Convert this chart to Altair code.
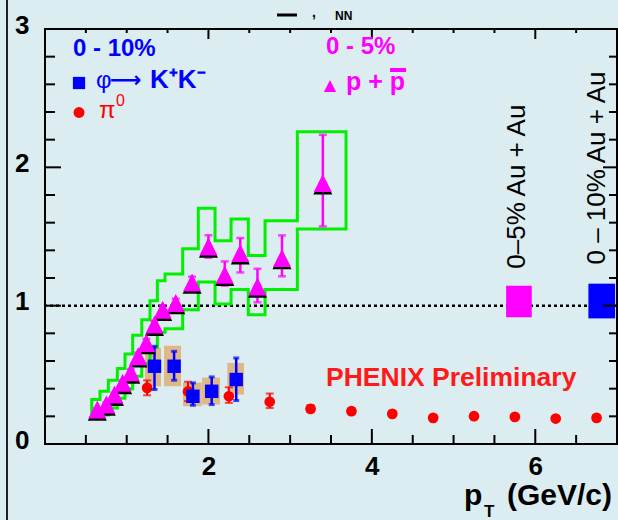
import altair as alt
import pandas as pd

FONT = "Liberation Sans"
W, H = 572, 415

# ---------------- data ----------------
# p + pbar, 0-5% central (R_CP)
P_PT = [0.64, 0.75, 0.85, 0.95, 1.05, 1.14, 1.24, 1.34, 1.44, 1.60, 1.80, 2.00, 2.20, 2.39, 2.60, 2.90, 3.40]
P_R = [0.249, 0.285, 0.357, 0.442, 0.518, 0.634, 0.731, 0.863, 0.971, 1.019, 1.168, 1.428, 1.224, 1.380, 1.139, 1.344, 1.886]
P_HI = [0.26, 0.30, 0.37, 0.46, 0.54, 0.66, 0.76, 0.89, 1.00, 1.05, 1.21, 1.509, 1.320, 1.489, 1.267, 1.508, 2.235]
P_LO = [0.24, 0.27, 0.34, 0.43, 0.50, 0.61, 0.70, 0.84, 0.94, 0.99, 1.13, 1.347, 1.144, 1.240, 1.024, 1.212, 1.573]
# systematic band (bin edges, upper, lower)
P_SYS_EDGES = [0.572, 0.673, 0.775, 0.885, 0.979, 1.073, 1.184, 1.285, 1.375, 1.469,
               1.685, 1.876, 2.081, 2.277, 2.488, 2.693, 3.088, 3.684]
P_SYS_HI = [0.321, 0.381, 0.461, 0.545, 0.651, 0.786, 0.899, 1.036, 1.181, 1.229,
            1.412, 1.705, 1.469, 1.626, 1.363, 1.614, 2.258]
P_SYS_LO = [0.193, 0.21, 0.26, 0.33, 0.40, 0.49, 0.58, 0.70, 0.807, 0.834,
            0.971, 1.171, 1.012, 1.116, 0.935, 1.116, 1.554]

# phi -> K+K-, 0-10%
PHI_PT = [1.34, 1.58, 1.81, 2.04, 2.34]
PHI_R = [0.562, 0.562, 0.345, 0.381, 0.466]
PHI_HI = [0.706, 0.670, 0.442, 0.485, 0.622]
PHI_LO = [0.394, 0.461, 0.280, 0.285, 0.314]
PHI_SYS_X1 = [1.224, 1.457, 1.689, 1.922, 2.231]
PHI_SYS_X2 = [1.420, 1.665, 1.918, 2.142, 2.436]
PHI_SYS_HI = [0.695, 0.711, 0.444, 0.480, 0.586]
PHI_SYS_LO = [0.417, 0.417, 0.273, 0.285, 0.357]

# pi0, 0-10%
PI_PT = [1.25, 1.75, 2.25, 2.75, 3.25, 3.75, 4.25, 4.75, 5.25, 5.75, 6.25, 6.75]
PI_R = [0.406, 0.38, 0.345, 0.305, 0.254, 0.237, 0.218, 0.189, 0.201, 0.196, 0.184, 0.189]
PI_HI = [0.46, 0.45, 0.41, 0.365, 0.28, 0.26, 0.24, 0.21, 0.22, 0.215, 0.20, 0.21]
PI_LO = [0.352, 0.31, 0.297, 0.26, 0.23, 0.215, 0.20, 0.17, 0.18, 0.18, 0.17, 0.17]

# normalization uncertainty boxes
NORM_X1 = [5.643, 6.650]
NORM_X2 = [5.957, 6.977]
NORM_LO = [0.916, 0.908]
NORM_HI = [1.144, 1.159]
NORM_COLOR = ["#ff00ff", "#0000ff"]

REF_LINE = [1.0]
X_DOMAIN = [0, 7]
Y_DOMAIN = [0, 3]
X_LABELS = [2, 4, 6]
Y_LABELS = [0, 1, 2, 3]
X_MINOR = [0.5, 1, 1.5, 2.5, 3, 3.5, 4.5, 5, 5.5, 6.5]
X_MAJOR = [2, 4, 6]
Y_MINOR = [0.2, 0.4, 0.6, 0.8, 1.2, 1.4, 1.6, 1.8, 2.2, 2.4, 2.6, 2.8]
Y_MAJOR = [1, 2]

# ---------------- colours ----------------
MAGENTA = "#ff00ff"
BLUE = "#0000ff"
RED = "#ff0000"
GREEN = "#00f000"
TAN = "#deb887"
BG = "#dcedf1"

xs = alt.Scale(domain=X_DOMAIN, nice=False, zero=False)
ys = alt.Scale(domain=Y_DOMAIN, nice=False, zero=False)
x_axis = alt.Axis(values=X_LABELS, title=None, ticks=False, tickSize=0, domain=False, grid=False,
                  labelFontSize=26, labelFontWeight="bold", labelFont=FONT, labelColor="black",
                  labelPadding=9, labelFlush=False)
y_axis = alt.Axis(values=Y_LABELS, title=None, ticks=False, tickSize=0, domain=False, grid=False,
                  labelFontSize=26, labelFontWeight="bold", labelFont=FONT, labelColor="black",
                  labelPadding=16, labelOffset=-4, labelFlush=False)


def X(f="x"):
    return alt.X(f, type="quantitative", scale=xs, axis=x_axis)


def Y(f="y"):
    return alt.Y(f, type="quantitative", scale=ys, axis=y_axis)


# ---------------- frames ----------------
p_df = pd.DataFrame({"x": P_PT, "y": P_R, "lo": P_LO, "hi": P_HI})
phi_df = pd.DataFrame({"x": PHI_PT, "y": PHI_R, "lo": PHI_LO, "hi": PHI_HI,
                       "x1": PHI_SYS_X1, "x2": PHI_SYS_X2, "slo": PHI_SYS_LO, "shi": PHI_SYS_HI})
pi_df = pd.DataFrame({"x": PI_PT, "y": PI_R, "lo": PI_LO, "hi": PI_HI})
norm_df = pd.DataFrame({"x": NORM_X1, "x2": NORM_X2, "y": NORM_LO, "y2": NORM_HI, "c": NORM_COLOR})

# systematic band outline as a closed step polygon
band = [(P_SYS_EDGES[0], P_SYS_LO[0])]
n = len(P_SYS_HI)
for i in range(n):
    band += [(P_SYS_EDGES[i], P_SYS_HI[i]), (P_SYS_EDGES[i + 1], P_SYS_HI[i])]
for i in reversed(range(n)):
    band += [(P_SYS_EDGES[i + 1], P_SYS_LO[i]), (P_SYS_EDGES[i], P_SYS_LO[i])]
band_df = pd.DataFrame({"x": [b[0] for b in band], "y": [b[1] for b in band], "o": list(range(len(band)))})


def caps(df):
    return pd.concat([df[["x"]].assign(y=df["lo"]), df[["x"]].assign(y=df["hi"])], ignore_index=True)


layers = []

# tan boxes
layers.append(alt.Chart(phi_df).mark_rect(color=TAN).encode(
    x=X("x1"), x2=alt.X2("x2"), y=Y("slo"), y2=alt.Y2("shi")))

# reference line
layers.append(alt.Chart(pd.DataFrame({"y": REF_LINE})).mark_rule(
    color="black", strokeWidth=2.5, strokeDash=[3, 3]).encode(y=Y("y")))

# green systematic band
layers.append(alt.Chart(band_df).mark_line(color=GREEN, strokeWidth=3, strokeJoin="miter").encode(
    x=X("x"), y=Y("y"), order="o:Q"))

# pi0
layers.append(alt.Chart(pi_df).mark_rule(color=RED, strokeWidth=2).encode(
    x=X("x"), y=Y("lo"), y2=alt.Y2("hi")))
layers.append(alt.Chart(caps(pi_df)).mark_tick(color=RED, orient="horizontal", size=8, thickness=2).encode(
    x=X("x"), y=Y("y")))
layers.append(alt.Chart(pi_df).mark_point(shape="circle", filled=True, color=RED, size=115, opacity=1).encode(
    x=X("x"), y=Y("y")))

# phi
layers.append(alt.Chart(phi_df).mark_rule(color=BLUE, strokeWidth=2.5).encode(
    x=X("x"), y=Y("lo"), y2=alt.Y2("hi")))
layers.append(alt.Chart(caps(phi_df)).mark_tick(color=BLUE, orient="horizontal", size=6, thickness=3).encode(
    x=X("x"), y=Y("y")))
layers.append(alt.Chart(phi_df).mark_point(shape="square", filled=True, color=BLUE, size=180, opacity=1).encode(
    x=X("x"), y=Y("y")))

# p + pbar
TRI = "M0,-1L1,1L-1,1Z"
layers.append(alt.Chart(p_df).mark_rule(color=MAGENTA, strokeWidth=2.5).encode(
    x=X("x"), y=Y("lo"), y2=alt.Y2("hi")))
layers.append(alt.Chart(caps(p_df)).mark_tick(color=MAGENTA, orient="horizontal", size=8, thickness=2.5).encode(
    x=X("x"), y=Y("y")))
layers.append(alt.Chart(p_df).mark_point(shape=TRI, filled=True, color="black", size=360, opacity=1,
                                         yOffset=1.8).encode(x=X("x"), y=Y("y")))
layers.append(alt.Chart(p_df).mark_point(shape=TRI, filled=True, color=MAGENTA, size=324, opacity=1).encode(
    x=X("x"), y=Y("y")))

# normalization boxes
layers.append(alt.Chart(norm_df).mark_rect().encode(
    x=X("x"), x2=alt.X2("x2"), y=Y("y"), y2=alt.Y2("y2"), color=alt.Color("c:N", scale=None)))

# inward ticks on all four sides
def tick_layer(vals, side, length):
    d = pd.DataFrame({"v": vals})
    m = alt.Chart(d).mark_rule(color="black", strokeWidth=2)
    if side == "bottom":
        return m.encode(x=X("v"), y=alt.value(H), y2=alt.value(H - length))
    if side == "top":
        return m.encode(x=X("v"), y=alt.value(0), y2=alt.value(length))
    if side == "left":
        return m.encode(y=Y("v"), x=alt.value(0), x2=alt.value(length))
    return m.encode(y=Y("v"), x=alt.value(W), x2=alt.value(W - length))


layers += [
    tick_layer(X_MINOR, "bottom", 9), tick_layer(X_MAJOR, "bottom", 15),
    tick_layer(X_MINOR, "top", 4), tick_layer(X_MAJOR, "top", 10),
    tick_layer(Y_MINOR, "left", 10), tick_layer(Y_MAJOR, "left", 16),
    tick_layer(Y_MINOR, "right", 8), tick_layer(Y_MAJOR, "right", 14),
]

# ---------------- annotations ----------------
one = pd.DataFrame({"k": [0]})


def label(text, x, y, size, color="black", weight="normal", align="left", baseline="alphabetic",
          angle=0, font=FONT):
    kw = dict(text=text, fontSize=size, color=color, fontWeight=weight, align=align,
              baseline=baseline, font=font)
    if angle:
        kw["angle"] = angle
    return alt.Chart(one).mark_text(**kw).encode(x=alt.value(x), y=alt.value(y))


def marker(shape, x, y, size, color):
    return alt.Chart(one).mark_point(shape=shape, filled=True, color=color, size=size, opacity=1).encode(
        x=alt.value(x), y=alt.value(y))


layers += [
    label("0 - 10%", 28, 20, 24, BLUE, "bold", baseline="middle"),
    marker("square", 34, 54, 150, BLUE),
    label("\u03c6", 51, 59, 24, BLUE, "normal"),
    label("\u27f6", 65, 58, 22, BLUE, "bold", font="DejaVu Sans"),
    label("K\u207aK\u207b", 105, 59, 26, BLUE, "bold"),
    marker("circle", 34, 83.5, 120, RED),
    label("\u03c0", 54, 89, 24, RED),
    label("0", 71, 77, 16, RED),
    label("0 - 5%", 281, 18, 24, MAGENTA, "bold", baseline="middle"),
    marker(TRI, 285, 57, 150, MAGENTA),
    label("p + p", 301, 61, 25, MAGENTA, "bold"),
    alt.Chart(one).mark_rule(color=MAGENTA, strokeWidth=4).encode(
        x=alt.value(345), x2=alt.value(361), y=alt.value(41)),
    label("PHENIX Preliminary", 281, 349, 26.5, "#ff1a1a", "bold", baseline="middle"),
    label("0\u20135% Au + Au", 471.5, 157.7, 26, "black", align="center", baseline="middle", angle=270),
    label("0 \u2013 10% Au + Au", 551.5, 139, 26, "black", align="center", baseline="middle", angle=270),
    # axis title
    label("p", 419, 476, 30, "black", "bold"),
    label("T", 439, 488, 17, "black", "bold"),
    label("(GeV/c)", 462, 476, 30, "black", "bold"),
    # clipped title fragments at the very top
    alt.Chart(one).mark_rule(color="black", strokeWidth=3).encode(
        x=alt.value(232), x2=alt.value(252), y=alt.value(-14)),
    label(",", 267, -12, 14, "black", "bold"),
    label("NN", 290, -9, 12, "black", "bold"),
    # left page border
    alt.Chart(one).mark_rule(color="#222222", strokeWidth=2).encode(
        x=alt.value(-38), y=alt.value(-29), y2=alt.value(491)),
]

chart = alt.layer(*layers).properties(
    width=W, height=H,
    autosize=alt.AutoSizeParams(type="none"),
    padding={"left": 45, "top": 29, "right": 1, "bottom": 76},
    background=BG,
).configure_view(stroke="black", strokeWidth=2, fill=BG)

chart.save("out.html", embed_options={"renderer": "svg", "actions": False})
